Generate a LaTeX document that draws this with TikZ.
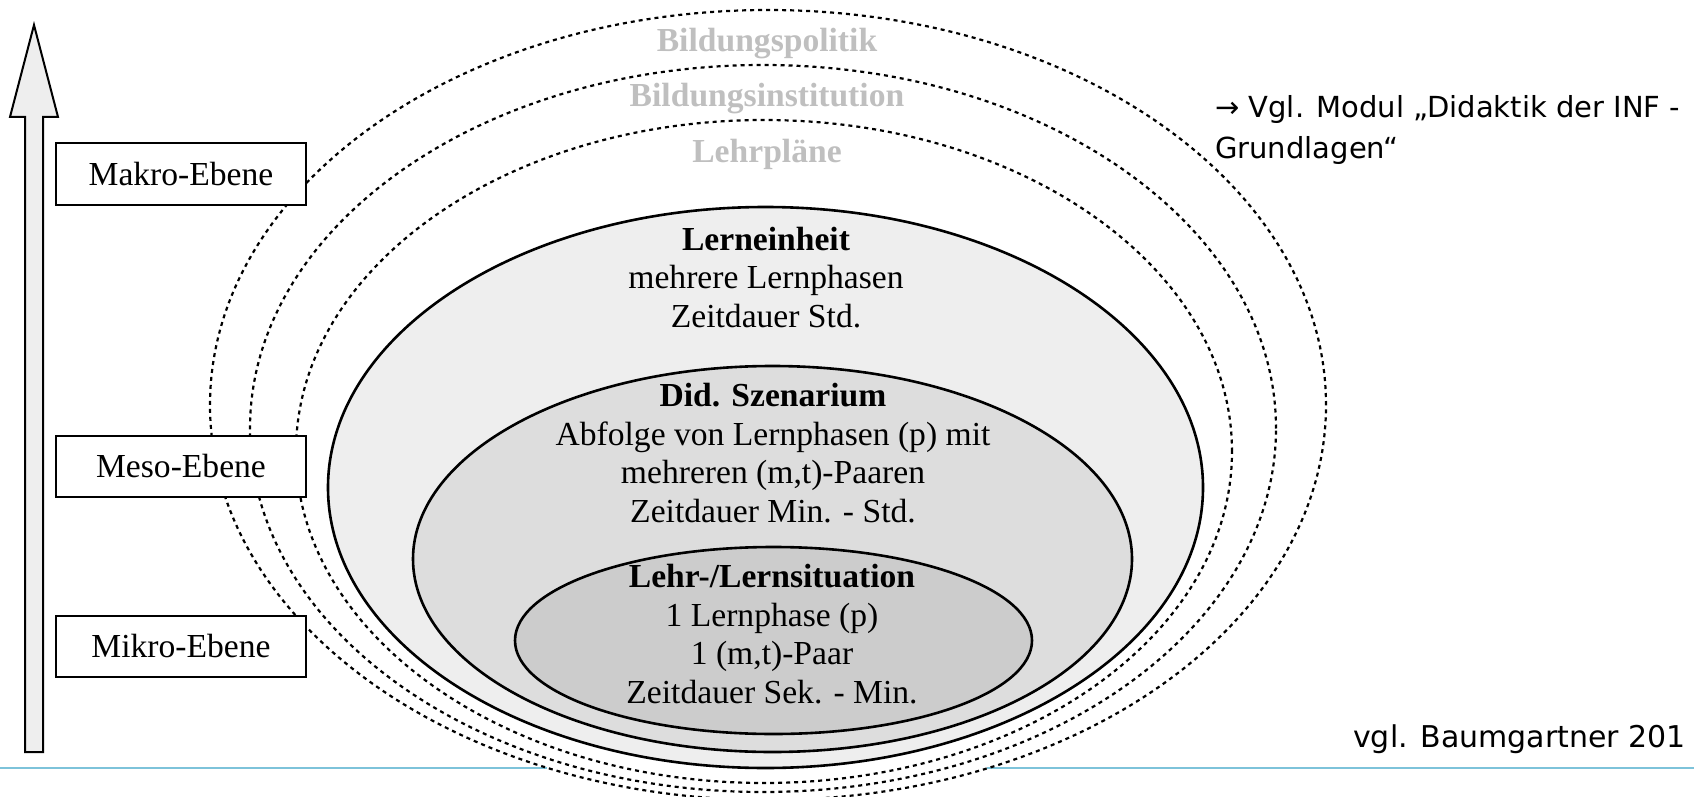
\documentclass[tikz,border=0pt]{standalone}
\usepackage{fontspec}
\setmainfont{Liberation Serif}
\newfontfamily\hinweisfont{DejaVu Sans}
\definecolor{hellgrau}{HTML}{EEEEEE}
\definecolor{mittelgrau}{HTML}{DDDDDD}
\definecolor{dunkelgrau}{HTML}{CCCCCC}
\definecolor{schriftgrau}{HTML}{BFBFBF}
\definecolor{linienblau}{RGB}{125,195,218}

\begin{document}
\begin{tikzpicture}
        [x=1pt,y=-1pt,
         ebenebox/.style={draw,line width=2pt,fill=white,minimum width=250pt,
           minimum height=61pt,inner sep=0pt,font=\fontsize{33.6}{38.5}\selectfont},
         rahmen/.style={line width=2.2pt,dash pattern=on 4pt off 4pt},
         kreis/.style={draw,line width=2.6pt},
         inhalt/.style={align=center,anchor=base,inner sep=0pt,
           font=\fontsize{33.6}{38.5}\selectfont},
         ebene/.style={anchor=base,inner sep=0pt,text=schriftgrau,
           font=\fontsize{33.6}{38.5}\selectfont\bfseries},
         hinweis/.style={anchor=base west,align=left,inner sep=0pt,
           font=\fontsize{29}{40}\selectfont\hinweisfont}]
        \useasboundingbox (0,0) rectangle (1694,797);

        \draw[linienblau,line width=1.5pt] (0,768) -- (547,768);
        \draw[linienblau,line width=1.5pt] (987,768) -- (1694,768);

        \draw[rahmen] (768,405) ellipse [x radius=558pt,y radius=395pt];
        \draw[rahmen] (763,428.5) ellipse [x radius=513pt,y radius=363.5pt];
        \draw[rahmen] (764,451.5) ellipse [x radius=468pt,y radius=331.5pt];

        \filldraw[kreis,fill=hellgrau] (765.5,487.5) ellipse [x radius=437.5pt,y radius=280.5pt];
        \filldraw[kreis,fill=mittelgrau] (772.5,559) ellipse [x radius=359.5pt,y radius=193pt];
        \filldraw[kreis,fill=dunkelgrau] (773.5,640.5) ellipse [x radius=258.5pt,y radius=93.5pt];

        \node[ebene] (politik) at (767,52) {Bildungspolitik};
        \node[ebene] (institution) at (767,107) {Bildungsinstitution};
        \node[ebene] (lehrplan) at (767,162) {Lehrpläne};

        % base anchor sits on the last line
        \node[inhalt] (einheit) at (766,327)
          {\textbf{Lerneinheit}\\mehrere Lernphasen\\Zeitdauer Std.};
        \node[inhalt] (szenario) at (773,522)
          {\textbf{Did. Szenarium}\\Abfolge von Lernphasen (p) mit\\mehreren (m,t)-Paaren\\Zeitdauer Min. - Std.};
        \node[inhalt] (situation) at (772,703)
          {\textbf{Lehr-/Lernsituation}\\1 Lernphase (p)\\1 (m,t)-Paar\\Zeitdauer Sek. - Min.};

        \node[ebenebox] (makro) at (181,174) {Makro-Ebene};
        \node[ebenebox] (meso) at (181,466.5) {Meso-Ebene};
        \node[ebenebox] (mikro) at (181,646.5) {Mikro-Ebene};

        \filldraw[fill=hellgrau,line width=2pt] (34,25) -- (58,117) -- (43,117)
          -- (43,752) -- (25,752) -- (25,117) -- (10,117) -- cycle;

        \node[hinweis] (modul) at (1215,158) {→ Vgl. Modul „Didaktik der INF -\\Grundlagen“};
        \node[hinweis,font=\fontsize{30}{40}\selectfont\hinweisfont] (quelle) at (1353,747) {vgl. Baumgartner 201};
      \end{tikzpicture}
\end{document}
